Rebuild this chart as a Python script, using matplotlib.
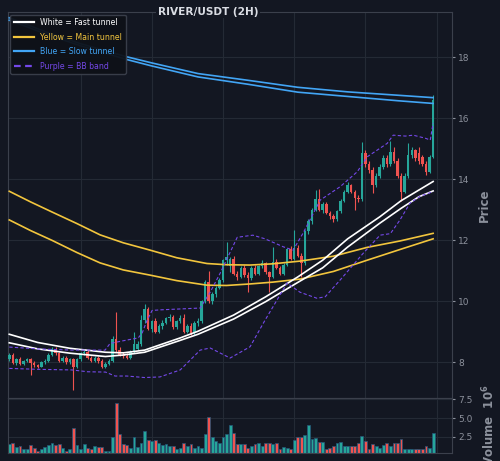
import numpy as np
import matplotlib
matplotlib.use('Agg')
import matplotlib.pyplot as plt
from matplotlib.lines import Line2D

# candles, 2H
opens = [8.10, 8.25, 7.98, 8.10, 7.95, 8.05, 8.10, 7.98, 7.90, 7.86,
         8.00, 8.05, 8.25, 8.45, 8.30, 8.05, 8.15, 8.00, 8.10, 7.85,
         8.10, 8.30, 8.35, 8.15, 8.05, 8.15, 8.05, 7.85, 7.95, 8.05,
         8.75, 8.40, 8.25, 8.20, 8.15, 8.35, 8.45, 8.60, 9.40, 9.75,
         9.10, 9.35, 9.00, 9.20, 9.30, 9.45, 9.50, 9.15, 9.35, 9.45,
         9.00, 9.20, 8.95, 9.30, 9.35, 10.00, 10.65, 10.00, 10.25, 10.45,
         10.70, 11.35, 11.15, 11.40, 10.90, 10.80, 11.10, 10.85, 10.75, 11.10,
         10.90, 11.15, 11.25, 10.95, 10.80, 11.30, 11.10, 10.90, 11.20, 11.70,
         11.40, 11.75, 11.50, 11.25, 12.30, 12.65, 13.00, 13.35, 13.00, 13.20,
         12.90, 12.80, 12.70, 12.95, 13.30, 13.60, 13.80, 13.60, 13.40, 13.35,
         14.85, 14.50, 14.30, 13.80, 14.10, 14.40, 14.70, 14.50, 14.90, 14.60,
         14.10, 13.60, 14.10, 14.80, 14.95, 14.85, 14.75, 14.50, 14.25, 14.75]
highs = [8.30, 8.30, 8.15, 8.18, 8.08, 8.15, 8.14, 8.05, 7.96, 8.05,
         8.10, 8.30, 8.50, 8.50, 8.35, 8.20, 8.20, 8.15, 8.15, 8.15,
         8.35, 8.42, 8.40, 8.20, 8.22, 8.20, 8.10, 8.00, 8.10, 8.85,
         9.65, 8.50, 8.35, 8.30, 8.40, 9.00, 8.70, 9.55, 9.90, 9.80,
         9.40, 9.45, 9.25, 9.40, 9.50, 9.60, 9.55, 9.40, 9.55, 9.60,
         9.25, 9.30, 9.35, 9.45, 10.05, 10.70, 11.00, 10.30, 10.50, 10.75,
         11.40, 11.95, 11.45, 11.50, 11.00, 11.15, 11.20, 10.95, 11.15, 11.20,
         11.20, 11.35, 11.30, 11.00, 11.78, 11.40, 11.15, 11.25, 11.75, 11.80,
         12.35, 11.85, 11.60, 12.35, 12.70, 13.05, 13.65, 13.70, 13.25, 13.25,
         12.95, 12.85, 13.00, 13.35, 13.65, 13.90, 13.85, 13.65, 13.50, 15.23,
         14.95, 14.60, 14.40, 14.20, 14.50, 14.80, 14.80, 15.25, 15.05, 14.70,
         14.20, 14.20, 15.20, 15.05, 15.00, 15.05, 14.80, 14.60, 14.80, 16.77]
lows = [8.05, 7.95, 7.92, 7.90, 7.90, 8.00, 7.58, 7.85, 7.82, 7.84,
        7.95, 8.02, 8.20, 8.25, 8.00, 8.00, 7.95, 7.95, 7.10, 7.80,
        8.05, 8.25, 8.10, 8.00, 8.00, 7.98, 7.80, 7.80, 7.90, 8.00,
        8.35, 8.20, 8.15, 8.10, 8.12, 8.30, 8.40, 8.55, 9.30, 9.05,
        9.00, 8.95, 8.95, 9.10, 9.25, 9.35, 9.10, 9.10, 9.30, 8.95,
        8.95, 8.90, 8.90, 9.20, 9.30, 9.95, 9.95, 9.90, 10.15, 10.40,
        10.65, 11.20, 10.95, 10.85, 10.70, 10.75, 10.80, 10.30, 10.70, 10.85,
        10.85, 11.10, 10.90, 10.30, 10.75, 11.05, 10.85, 10.85, 11.15, 11.35,
        11.35, 11.45, 10.80, 11.20, 12.20, 12.55, 12.95, 12.95, 12.90, 12.85,
        12.70, 12.60, 12.65, 12.90, 13.25, 13.55, 13.55, 13.00, 13.25, 13.30,
        14.40, 14.20, 13.55, 13.75, 14.05, 14.35, 14.40, 14.45, 14.55, 14.05,
        13.30, 13.55, 14.05, 14.70, 14.60, 14.50, 14.45, 14.15, 14.20, 14.70]
closes = [8.25, 7.98, 8.10, 7.95, 8.05, 8.10, 7.98, 7.90, 7.86, 8.00,
          8.05, 8.25, 8.45, 8.30, 8.05, 8.15, 8.00, 8.10, 7.85, 8.10,
          8.30, 8.35, 8.15, 8.05, 8.15, 8.05, 7.85, 7.95, 8.05, 8.75,
          8.40, 8.25, 8.20, 8.15, 8.35, 8.60, 8.60, 9.40, 9.75, 9.10,
          9.35, 9.00, 9.20, 9.30, 9.45, 9.50, 9.15, 9.35, 9.45, 9.00,
          9.20, 8.95, 9.30, 9.35, 10.00, 10.65, 10.00, 10.25, 10.45, 10.70,
          11.35, 11.45, 11.40, 10.90, 10.80, 11.10, 10.85, 10.75, 11.10, 10.90,
          11.15, 11.25, 10.95, 10.80, 11.30, 11.10, 10.90, 11.20, 11.70, 11.40,
          11.75, 11.50, 11.25, 12.30, 12.65, 13.00, 13.35, 13.00, 13.20, 12.90,
          12.80, 12.70, 12.95, 13.30, 13.60, 13.80, 13.60, 13.40, 13.35, 14.85,
          14.50, 14.30, 13.80, 14.10, 14.40, 14.70, 14.50, 14.90, 14.60, 14.10,
          13.60, 14.10, 14.80, 14.95, 14.70, 14.60, 14.50, 14.25, 14.75, 16.60]
# volume in units of 1e6
volumes = [1.5, 1.7, 1.1, 1.3, 0.9, 0.8, 1.4, 1.0, 0.5, 0.9,
           1.1, 1.4, 1.6, 1.4, 1.5, 1.0, 0.5, 0.8, 3.6, 1.4,
           0.9, 1.5, 1.0, 0.8, 1.2, 1.1, 1.1, 0.6, 0.6, 2.4,
           7.0, 2.9, 1.5, 1.4, 1.0, 2.4, 1.1, 1.6, 3.2, 2.0,
           1.9, 2.1, 1.6, 1.4, 1.5, 1.2, 1.2, 0.9, 1.0, 1.6,
           1.3, 1.5, 1.0, 1.2, 1.0, 2.9, 5.2, 2.4, 1.9, 1.6,
           2.4, 2.9, 4.1, 3.0, 1.5, 1.5, 1.5, 1.0, 1.2, 1.5,
           1.6, 1.2, 1.6, 1.6, 1.5, 1.6, 0.9, 1.1, 1.0, 0.9,
           2.1, 2.4, 2.4, 2.7, 4.1, 2.2, 2.3, 1.8, 1.8, 0.9,
           1.0, 1.3, 1.7, 1.8, 1.2, 1.2, 1.2, 1.3, 1.6, 2.6,
           1.9, 0.9, 1.5, 1.3, 1.0, 1.4, 1.7, 1.3, 1.7, 1.7,
           2.2, 0.9, 0.9, 0.9, 0.9, 0.9, 0.9, 1.2, 1.0, 3.0]

# tunnels and bands (bar index, price)
blue_x = [0, 10, 20, 33, 40, 53, 67, 81, 95, 109, 119]
blue_up = [19.30, 18.85, 18.45, 18.02, 17.82, 17.47, 17.25, 17.02, 16.87, 16.76, 16.68]
blue_lo = [19.22, 18.78, 18.38, 17.93, 17.72, 17.36, 17.12, 16.86, 16.72, 16.58, 16.49]

yel_x = [0, 6, 12, 19, 25.5, 32, 39.5, 47, 55.5, 61, 67.6, 74, 81.7, 91, 100.5, 109.7, 119]
yel_up = [13.61, 13.26, 12.93, 12.55, 12.18, 11.92, 11.68, 11.43, 11.24, 11.20, 11.19, 11.23, 11.32, 11.48, 11.77, 11.98, 12.23]
yel_lo = [12.67, 12.32, 12.00, 11.60, 11.26, 11.03, 10.86, 10.68, 10.53, 10.52, 10.57, 10.63, 10.73, 10.98, 11.35, 11.70, 12.05]

wht_x = [0, 8, 17, 27, 32, 38, 48, 53, 63, 72, 81, 88, 95, 104, 110, 115, 119]
wht_up = [8.92, 8.65, 8.46, 8.33, 8.31, 8.40, 8.80, 9.02, 9.55, 10.15, 10.80, 11.35, 12.05, 12.77, 13.30, 13.65, 13.93]
wht_lo = [8.64, 8.44, 8.30, 8.19, 8.24, 8.33, 8.72, 8.92, 9.42, 9.99, 10.62, 11.10, 11.78, 12.56, 13.05, 13.43, 13.62]

bbu_x = [0, 8, 17.6, 26.9, 28.3, 31.7, 36.2, 37.3, 38.7, 40.1, 42.3, 48, 53.6, 56.4, 59.2, 64, 68.4, 71.8,
         76.9, 79.7, 82.5, 87.3, 92.9, 97.7, 100.5, 106.1, 107.8, 111.2, 113.4, 116.8, 118.2, 119]
bb_up = [8.50, 8.44, 8.40, 8.40, 8.62, 8.70, 8.80, 8.96, 9.38, 9.70, 9.72, 9.75, 9.78, 10.30, 10.92, 12.10, 12.17, 12.05,
         11.79, 11.68, 12.24, 13.32, 13.76, 14.25, 14.74, 15.18, 15.45, 15.42, 15.45, 15.35, 15.29, 15.85]
bbl_x = [0, 8, 17.6, 22, 27, 29.7, 33, 38, 42.3, 48, 53.6, 56.4, 62, 67.6, 71.8, 78, 81.6, 86.4, 88.7,
         92.9, 99.4, 104.1, 107, 109.7, 112.5, 115.4, 119]
bb_lo = [7.80, 7.77, 7.75, 7.69, 7.68, 7.55, 7.55, 7.50, 7.52, 7.75, 8.40, 8.47, 8.14, 8.51, 9.38, 10.60, 10.30, 10.10, 10.15,
         10.70, 11.58, 12.17, 12.22, 12.67, 13.22, 13.45, 13.60]

bg = '#131722'
grid_c = '#242a35'
spine_c = '#3b404c'
txt_c = '#8c919c'
up_c = '#26a69a'
dn_c = '#ef5350'
white_c = '#ffffff'
yel_c = '#f2c53d'
blue_c = '#42a5f5'
purp_c = '#7448e8'

x = np.arange(len(opens))
o = np.array(opens); c = np.array(closes)
cols = [up_c if cc >= oo else dn_c for oo, cc in zip(o, c)]

fig = plt.figure(figsize=(5, 4.61), dpi=100, facecolor=bg)
ax = fig.add_axes([0.015, 0.1367, 0.889, 0.8373])
axv = fig.add_axes([0.015, 0.0174, 0.889, 0.1193], sharex=ax)

for a in (ax, axv):
    a.set_facecolor(bg)
    for s in a.spines.values():
        s.set_color(spine_c)
    a.grid(True, color=grid_c, lw=0.8)
    a.set_axisbelow(True)
    a.yaxis.tick_right()
    a.yaxis.set_label_position('right')
    a.tick_params(axis='y', colors=txt_c, labelsize=6.5, length=2.5, pad=2)
    a.tick_params(axis='x', length=0, labelbottom=False)
    a.set_xticks([20, 40, 60, 80, 100, 120])

# candles
ax.vlines(x, lows, highs, colors=cols, lw=0.8, zorder=2)
ax.bar(x, np.abs(c - o), bottom=np.minimum(o, c), width=0.7, color=cols, lw=0, zorder=3)

ax.plot(blue_x, blue_up, color=blue_c, lw=1.2, zorder=4)
ax.plot(blue_x, blue_lo, color=blue_c, lw=1.2, zorder=4)
ax.plot(yel_x, yel_up, color=yel_c, lw=1.2, zorder=4)
ax.plot(yel_x, yel_lo, color=yel_c, lw=1.2, zorder=4)
ax.plot(wht_x, wht_up, color=white_c, lw=1.2, zorder=4)
ax.plot(wht_x, wht_lo, color=white_c, lw=1.2, zorder=4)
ax.plot(bbu_x, bb_up, color=purp_c, lw=0.8, ls=(0, (3, 2)), zorder=4)
ax.plot(bbl_x, bb_lo, color=purp_c, lw=0.8, ls=(0, (3, 2)), zorder=4)

ax.set_xlim(-0.5, 124.3)
ax.set_ylim(6.83, 19.49)
ax.set_yticks([8, 10, 12, 14, 16, 18])
ax.set_ylabel('Price', color=txt_c, fontsize=8.5, fontweight='bold', labelpad=6)

handles = [Line2D([], [], color=white_c, lw=1.6),
           Line2D([], [], color=yel_c, lw=1.6),
           Line2D([], [], color=blue_c, lw=1.6),
           Line2D([], [], color=purp_c, lw=1.6, ls=(0, (3, 2)))]
labels = ['White = Fast tunnel', 'Yellow = Main tunnel', 'Blue = Slow tunnel', 'Purple = BB band']
leg = ax.legend(handles, labels, loc='upper left', fontsize=5.6, frameon=True,
                facecolor='#0e1118', edgecolor=spine_c, framealpha=0.95,
                handlelength=2.6, handletextpad=0.8, labelspacing=0.7,
                borderpad=0.45, borderaxespad=0.35)
for t, col in zip(leg.get_texts(), [white_c, yel_c, blue_c, purp_c]):
    t.set_color(col)

# volume
axv.bar(x, volumes, width=0.8, color=cols, edgecolor='#25577a', lw=0.5)
axv.set_ylim(0.3, 7.7)
axv.set_yticks([2.5, 5.0, 7.5])
axv.set_ylabel('Volume  $\\mathregular{10^{6}}$', color=txt_c, fontsize=8.5,
               fontweight='bold', labelpad=6)

fig.text(0.416, 0.974, 'RIVER/USDT (2H)', ha='center', va='center', color='#dadde4',
         fontsize=7.6, fontweight='bold',
         bbox=dict(facecolor=bg, edgecolor='none', pad=1.0))

fig.savefig('out.png', dpi=100, facecolor=bg)
